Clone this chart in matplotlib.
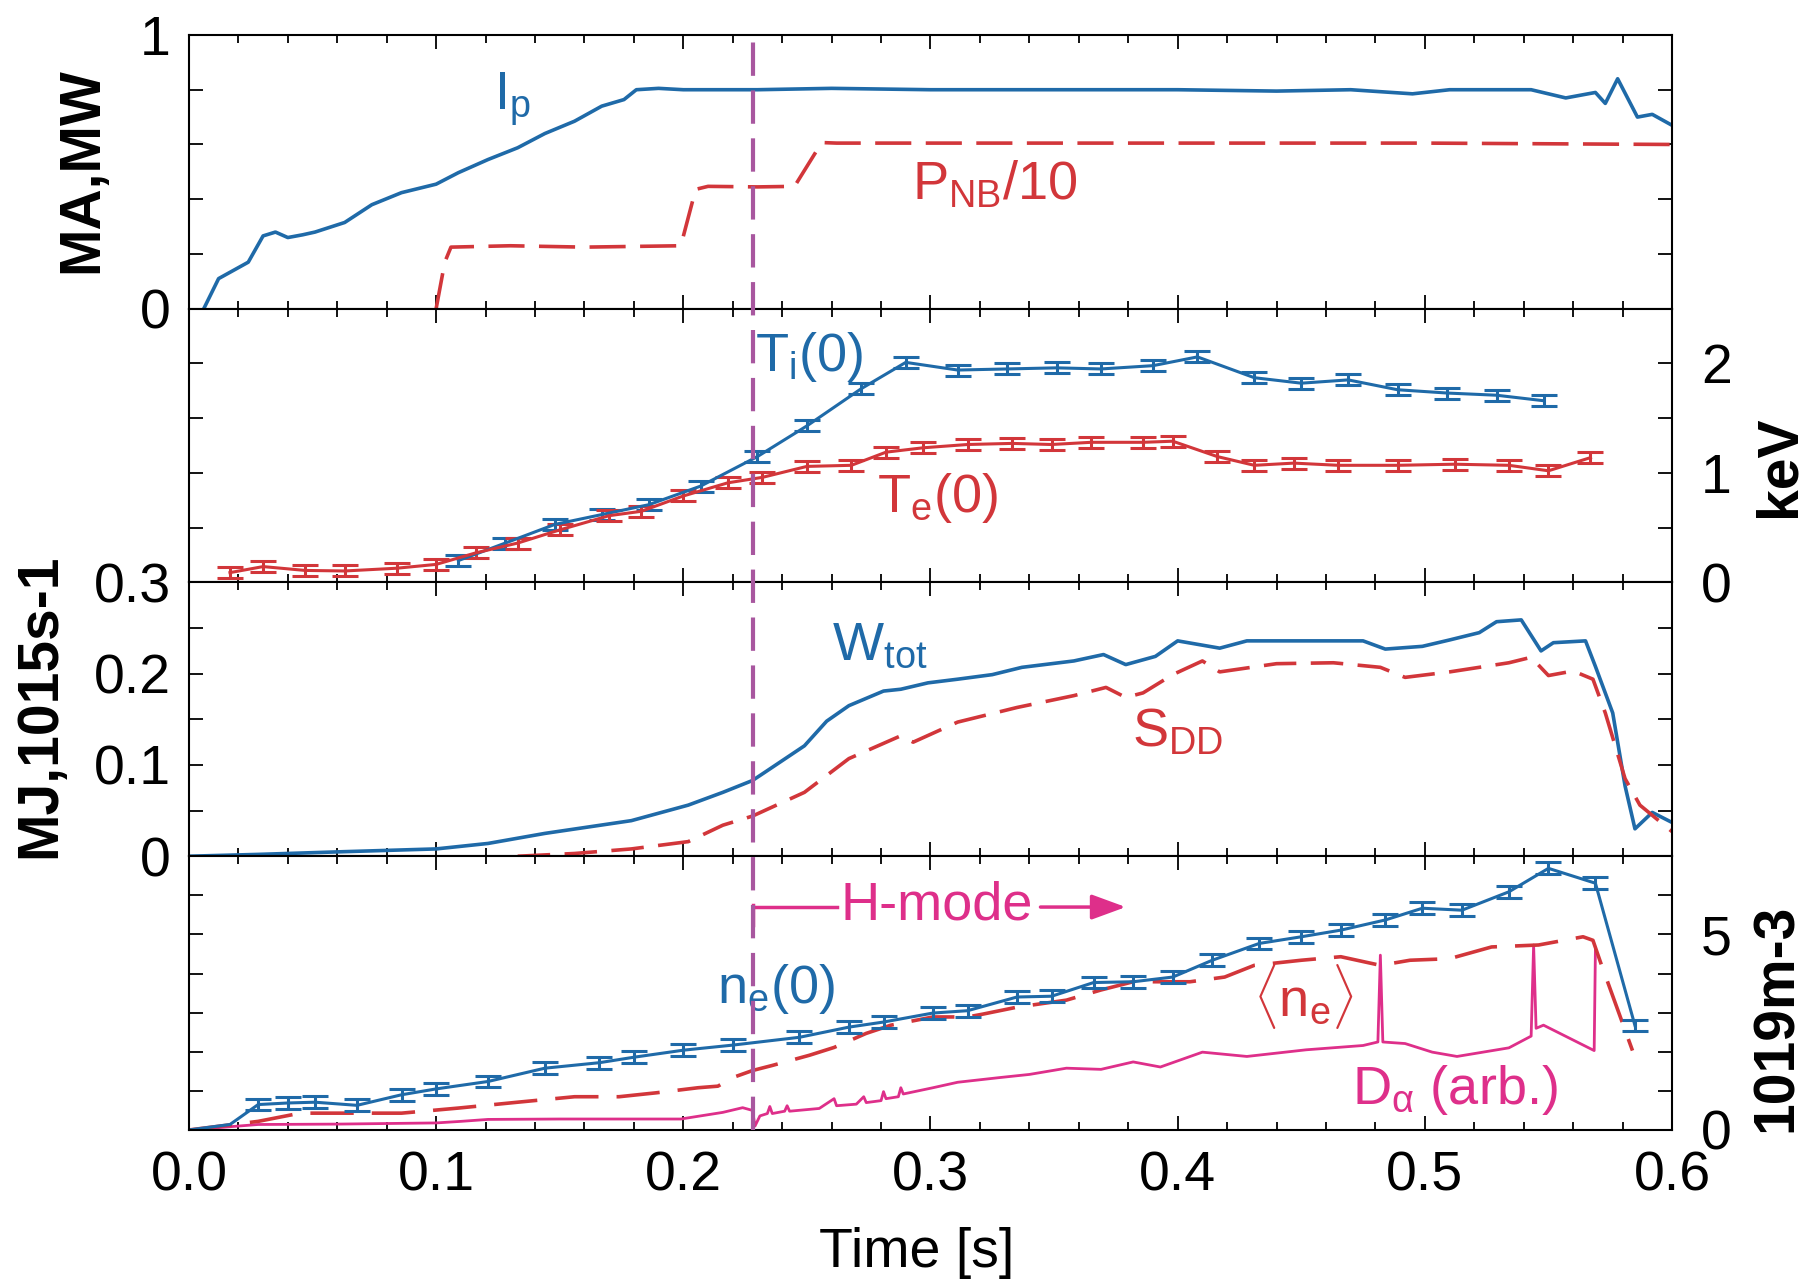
import numpy as np
import matplotlib
matplotlib.use('Agg')
import matplotlib.pyplot as plt
from matplotlib.lines import Line2D
from matplotlib.ticker import MultipleLocator

plt.rcParams['font.family'] = ['Liberation Sans', 'DejaVu Sans']
plt.rcParams['mathtext.fontset'] = 'custom'
plt.rcParams['mathtext.rm'] = 'Liberation Sans'
plt.rcParams['mathtext.it'] = 'Liberation Sans:italic'
plt.rcParams['mathtext.bf'] = 'Liberation Sans:bold'

# --- data ---
t_ip = [0.006, 0.012, 0.017, 0.024, 0.030, 0.035, 0.040, 0.046, 0.051, 0.063, 0.074, 0.086,
        0.100, 0.109, 0.121, 0.133, 0.144, 0.156, 0.167, 0.176, 0.181, 0.190, 0.200, 0.230,
        0.260, 0.300, 0.350, 0.400, 0.440, 0.470, 0.495, 0.510, 0.543, 0.557, 0.569, 0.573,
        0.578, 0.582, 0.586, 0.592, 0.600]
ip = [0.00, 0.11, 0.135, 0.17, 0.266, 0.28, 0.26, 0.27, 0.28, 0.315, 0.38, 0.424,
      0.455, 0.497, 0.545, 0.588, 0.64, 0.685, 0.74, 0.764, 0.80, 0.805, 0.80, 0.80,
      0.805, 0.80, 0.80, 0.80, 0.795, 0.80, 0.785, 0.80, 0.80, 0.77, 0.79, 0.75,
      0.84, 0.77, 0.70, 0.71, 0.67]

t_pnb = [0.100, 0.1035, 0.106, 0.130, 0.160, 0.199, 0.205, 0.210, 0.230, 0.245, 0.256,
         0.262, 0.300, 0.400, 0.500, 0.600]
pnb = [0.0, 0.17, 0.225, 0.23, 0.225, 0.23, 0.436, 0.447, 0.445, 0.447, 0.607,
       0.605, 0.605, 0.605, 0.605, 0.600]

t_ti = [0.109, 0.128, 0.148, 0.167, 0.186, 0.207, 0.230, 0.250, 0.272, 0.290, 0.311, 0.331,
        0.351, 0.369, 0.390, 0.408, 0.431, 0.450, 0.469, 0.489, 0.509, 0.529, 0.548]
ti = [0.20, 0.36, 0.53, 0.62, 0.71, 0.88, 1.15, 1.43, 1.77, 2.01, 1.94, 1.95,
      1.96, 1.95, 1.98, 2.06, 1.87, 1.82, 1.85, 1.76, 1.73, 1.71, 1.66]

t_te = [0.0166, 0.030, 0.047, 0.063, 0.084, 0.100, 0.116, 0.133, 0.150, 0.170, 0.183, 0.200,
        0.218, 0.232, 0.250, 0.268, 0.282, 0.297, 0.315, 0.333, 0.349, 0.365, 0.386, 0.398,
        0.416, 0.431, 0.447, 0.465, 0.489, 0.512, 0.534, 0.550, 0.567]
te = [0.09, 0.145, 0.11, 0.105, 0.13, 0.165, 0.27, 0.36, 0.48, 0.61, 0.65, 0.79,
      0.91, 0.96, 1.06, 1.07, 1.19, 1.23, 1.26, 1.27, 1.26, 1.28, 1.28, 1.29,
      1.15, 1.07, 1.09, 1.07, 1.07, 1.08, 1.07, 1.02, 1.14]

t_w = [0.000, 0.028, 0.063, 0.100, 0.121, 0.144, 0.179, 0.202, 0.216, 0.228, 0.233, 0.249,
       0.258, 0.267, 0.281, 0.288, 0.299, 0.311, 0.325, 0.337, 0.358, 0.370, 0.379, 0.391,
       0.400, 0.417, 0.428, 0.452, 0.475, 0.484, 0.499, 0.510, 0.522, 0.529, 0.539, 0.547,
       0.552, 0.565, 0.569, 0.576, 0.581, 0.585, 0.592, 0.600]
wtot = [0.0, 0.002, 0.005, 0.008, 0.014, 0.025, 0.039, 0.056, 0.070, 0.083, 0.092, 0.121,
        0.148, 0.165, 0.181, 0.183, 0.190, 0.194, 0.199, 0.207, 0.214, 0.221, 0.210, 0.219,
        0.236, 0.228, 0.236, 0.236, 0.236, 0.227, 0.230, 0.237, 0.245, 0.257, 0.259, 0.225,
        0.234, 0.236, 0.208, 0.157, 0.077, 0.030, 0.048, 0.037]

t_sdd = [0.133, 0.156, 0.179, 0.202, 0.216, 0.228, 0.249, 0.267, 0.288, 0.293, 0.311, 0.335,
         0.358, 0.371, 0.379, 0.386, 0.398, 0.410, 0.417, 0.440, 0.463, 0.482, 0.492, 0.510,
         0.534, 0.543, 0.550, 0.560, 0.568, 0.573, 0.581, 0.587, 0.600]
sdd = [0.000, 0.003, 0.008, 0.016, 0.034, 0.044, 0.070, 0.107, 0.132, 0.125, 0.147, 0.163,
       0.176, 0.185, 0.174, 0.179, 0.199, 0.214, 0.202, 0.211, 0.212, 0.207, 0.196, 0.202,
       0.212, 0.218, 0.198, 0.203, 0.194, 0.157, 0.085, 0.056, 0.027]

t_ne0 = [0.000, 0.0166, 0.028, 0.040, 0.051, 0.068, 0.086, 0.100, 0.121, 0.144, 0.166, 0.180,
         0.200, 0.220, 0.247, 0.267, 0.281, 0.301, 0.315, 0.335, 0.349, 0.366, 0.382, 0.398,
         0.414, 0.433, 0.450, 0.466, 0.484, 0.499, 0.515, 0.534, 0.550, 0.569, 0.585]
ne0 = [0.00, 0.14, 0.65, 0.69, 0.71, 0.63, 0.90, 1.05, 1.24, 1.58, 1.72, 1.86,
       2.04, 2.17, 2.37, 2.63, 2.76, 2.99, 3.05, 3.40, 3.42, 3.77, 3.79, 3.91,
       4.34, 4.77, 4.94, 5.11, 5.37, 5.67, 5.62, 6.09, 6.69, 6.31, 2.67]

t_nav = [0.000, 0.028, 0.045, 0.086, 0.109, 0.133, 0.156, 0.174, 0.189, 0.206, 0.214, 0.220,
         0.228, 0.236, 0.251, 0.261, 0.274, 0.284, 0.301, 0.315, 0.321, 0.335, 0.355, 0.369,
         0.382, 0.405, 0.419, 0.431, 0.450, 0.466, 0.482, 0.494, 0.510, 0.527, 0.546, 0.564,
         0.568, 0.571, 0.584]
nav = [0.00, 0.22, 0.43, 0.43, 0.56, 0.71, 0.85, 0.85, 0.95, 1.08, 1.12, 1.34,
       1.52, 1.65, 1.91, 2.11, 2.47, 2.68, 2.89, 2.89, 2.96, 3.14, 3.32, 3.58,
       3.79, 3.79, 3.91, 4.21, 4.34, 4.43, 4.21, 4.34, 4.38, 4.68, 4.73, 4.94,
       4.85, 4.30, 2.03]

t_da = [0.000, 0.010, 0.028, 0.060, 0.100, 0.110, 0.121, 0.150, 0.199, 0.207, 0.216, 0.224,
        0.228, 0.229, 0.231, 0.234, 0.235, 0.236, 0.241, 0.242, 0.243, 0.255, 0.261, 0.262,
        0.270, 0.273, 0.274, 0.280, 0.281, 0.282, 0.287, 0.288, 0.289, 0.301, 0.311, 0.328,
        0.340, 0.355, 0.369, 0.382, 0.393, 0.410, 0.428, 0.452, 0.475, 0.481, 0.482, 0.483,
        0.492, 0.503, 0.513, 0.534, 0.543, 0.544, 0.545, 0.548, 0.5685, 0.569]
da = [0.00, 0.05, 0.14, 0.15, 0.18, 0.22, 0.27, 0.28, 0.28, 0.36, 0.45, 0.57,
      0.50, 0.10, 0.36, 0.42, 0.60, 0.42, 0.48, 0.62, 0.48, 0.55, 0.80, 0.62,
      0.66, 0.85, 0.70, 0.75, 0.98, 0.80, 0.85, 1.08, 0.92, 1.08, 1.22, 1.34,
      1.42, 1.58, 1.55, 1.74, 1.61, 1.99, 1.88, 2.05, 2.16, 2.25, 4.47, 2.25,
      2.21, 1.99, 1.88, 2.10, 2.40, 4.73, 2.60, 2.68, 2.03, 4.60]

t_hmode = 0.228

BLUE = '#1f6aa8'
RED = '#d2363a'
MAG = '#de2f8a'
VLINE = '#a8579f'

fig = plt.figure(figsize=(18.08, 12.81), dpi=100)
gs = fig.add_gridspec(4, 1, left=0.1045, right=0.9248, top=0.9727, bottom=0.1179, hspace=0)
axs = [fig.add_subplot(gs[i]) for i in range(4)]

for ax in axs:
    ax.set_xlim(0, 0.6)
    ax.xaxis.set_major_locator(MultipleLocator(0.1))
    ax.xaxis.set_minor_locator(MultipleLocator(0.02))
    ax.tick_params(which='both', direction='in', top=True, right=True, width=1.3, labelsize=40)
    ax.tick_params(which='major', length=10)
    ax.tick_params(which='minor', length=6)
    ax.tick_params(axis='x', labelbottom=False, pad=15)
    for s in ax.spines.values():
        s.set_linewidth(1.5)

# panel 1: Ip and PNB
ax = axs[0]
ax.plot(t_ip, ip, color=BLUE, lw=2.6)
ax.plot(t_pnb, pnb, color=RED, lw=2.6, dashes=(10, 4))
ax.set_ylim(0, 1)
ax.set_yticks(np.arange(0, 1.01, 0.2))
ax.set_yticklabels(['0', '', '', '', '', '1'])
ax.tick_params(axis='y', pad=13)
ax.text(0.1234, 0.727, r'I$_\mathrm{p}$', color=BLUE, fontsize=39)
ax.text(0.2926, 0.40, r'P$_\mathrm{NB}$/10', color=RED, fontsize=39)

# panel 2: Ti, Te
ax = axs[1]
ax.errorbar(t_ti, ti, yerr=0.05, color=BLUE, lw=2.2, elinewidth=2.2, capsize=9.5, capthick=2.2)
ax.errorbar(t_te, te, yerr=0.05, color=RED, lw=2.2, elinewidth=2.2, capsize=9.5, capthick=2.2)
ax.set_ylim(0, 2.5)
ax.set_yticks(np.arange(0, 2.51, 0.5))
ax.set_yticklabels(['0', '', '1', '', '2', ''])
ax.tick_params(axis='y', labelleft=False, labelright=True, pad=21)
ax.text(0.229, 1.93, r'T$_\mathrm{i}$(0)', color=BLUE, fontsize=39)
ax.text(0.2784, 0.64, r'T$_\mathrm{e}$(0)', color=RED, fontsize=39)

# panel 3: Wtot, SDD
ax = axs[2]
ax.plot(t_w, wtot, color=BLUE, lw=2.6)
ax.plot(t_sdd, sdd, color=RED, lw=2.6, dashes=(9, 4))
ax.set_ylim(0, 0.3)
ax.set_yticks(np.arange(0, 0.301, 0.05))
ax.set_yticklabels(['0', '', '0.1', '', '0.2', '', '0.3'])
ax.tick_params(axis='y', pad=13)
ax.text(0.2602, 0.216, r'W$_\mathrm{tot}$', color=BLUE, fontsize=39)
ax.text(0.3816, 0.12, r'S$_\mathrm{DD}$', color=RED, fontsize=39)

# panel 4: densities and D-alpha
ax = axs[3]
ax.plot(t_da, da, color=MAG, lw=2.0)
ax.plot(t_nav, nav, color=RED, lw=2.6, dashes=(12, 5))
ax.plot(t_ne0, ne0, color=BLUE, lw=2.2)
ax.errorbar(t_ne0[2:], ne0[2:], yerr=0.15, fmt='none', ecolor=BLUE, elinewidth=2.2,
            capsize=9.5, capthick=2.2)
ax.set_ylim(0, 7)
ax.set_yticks(np.arange(0, 7.01, 1))
ax.set_yticklabels(['0', '', '', '', '', '5', '', ''])
ax.tick_params(axis='y', labelleft=False, labelright=True, pad=21)
ax.tick_params(axis='x', labelbottom=True)
ax.set_xticks(np.arange(0, 0.61, 0.1))
ax.set_xticklabels(['%.1f' % v for v in np.arange(0, 0.61, 0.1)])
ax.text(0.2137, 3.25, r'n$_\mathrm{e}$(0)', color=BLUE, fontsize=39)
ax.text(0.4306, 2.89, r'$\langle$n$_\mathrm{e}$$\rangle$', color=RED, fontsize=39)
ax.text(0.4707, 0.67, r'D$_\mathrm{α}$ (arb.)', color=MAG, fontsize=39)

# H-mode marker
ax.plot([t_hmode, t_hmode], [5.25, 5.75], color=MAG, lw=2.5)
ax.plot([t_hmode, 0.262], [5.70, 5.70], color=MAG, lw=2.5)
ax.text(0.2635, 5.39, 'H-mode', color=MAG, fontsize=39)
ax.annotate('', xy=(0.379, 5.70), xytext=(0.3445, 5.70),
            arrowprops=dict(arrowstyle='-|>,head_length=0.6,head_width=0.22',
                            color=MAG, lw=2.5, mutation_scale=35, shrinkA=0, shrinkB=0))

# dashed H-mode transition line through all panels
inv = fig.transFigure.inverted()
xf = inv.transform(axs[0].transData.transform((t_hmode, 0)))[0]
y_top = axs[0].get_position().y1
y_bot = axs[3].get_position().y0
fig.add_artist(Line2D([xf, xf], [y_bot, y_top], transform=fig.transFigure,
                      color=VLINE, lw=3.0, dashes=(8, 3.5)))

# axis labels
fig.text(82 / 1808, 1 - 170 / 1281, 'MA,MW', rotation=90, ha='center', va='center',
         fontsize=41, fontweight='bold')
fig.text(40 / 1808, 1 - 706 / 1281, 'MJ,1015s-1', rotation=90, ha='center', va='center',
         fontsize=41, fontweight='bold')
fig.text(1780 / 1808, 1 - 466 / 1281, 'keV', rotation=90, ha='center', va='center',
         fontsize=41, fontweight='bold')
fig.text(1777 / 1808, 1 - 1018 / 1281, '1019m-3', rotation=90, ha='center', va='center',
         fontsize=41, fontweight='bold')
fig.text(917 / 1808, 1 - 1253 / 1281, 'Time [s]', ha='center', va='center', fontsize=40)

fig.savefig('out.png', dpi=100)
